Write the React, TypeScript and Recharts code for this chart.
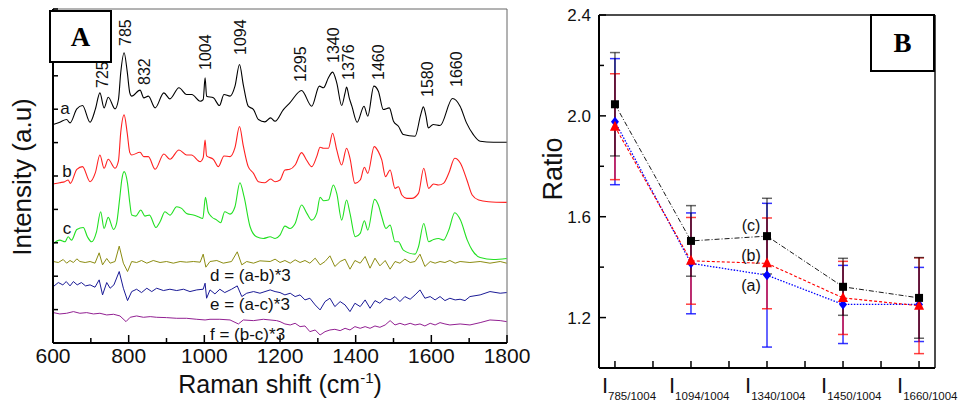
import React from "react";
import { LineChart, Line, ComposedChart, XAxis, YAxis, ErrorBar, ReferenceLine } from "recharts";

const FONT = "'Liberation Sans', Arial, sans-serif";
const SERIF = "'Liberation Serif', 'Times New Roman', serif";

// ---- panel A: Raman spectra, [shift (cm-1), intensity (a.u.)] ----
const spectrumA: [number, number][] = [
  [600, 6.54], [618, 6.61], [636, 6.69], [645, 6.59], [663, 7.01], [678, 7.11], [698, 6.61], [712, 7.0],
  [724, 7.49], [735, 7.04], [746, 7.36], [764, 7.01], [773, 7.29], [779, 8.09], [788, 8.69], [796, 8.14],
  [803, 7.49], [808, 7.39], [830, 7.57], [840, 7.34], [852, 7.39], [870, 7.04], [893, 7.49], [909, 7.31],
  [933, 7.64], [953, 7.44], [967, 7.44], [989, 7.24], [997, 7.29], [1002, 7.94], [1006, 7.39], [1024, 7.34],
  [1040, 7.11], [1052, 7.44], [1068, 7.39], [1081, 7.69], [1093, 8.34], [1103, 7.73], [1116, 7.09], [1130, 6.99],
  [1143, 6.69], [1160, 6.62], [1175, 6.74], [1187, 6.64], [1209, 6.99], [1226, 7.19], [1257, 7.56], [1284, 7.09],
  [1304, 7.69], [1315, 7.64], [1328, 7.94], [1339, 8.11], [1350, 7.79], [1363, 7.11], [1372, 7.49], [1376, 7.66],
  [1383, 7.34], [1390, 7.09], [1404, 6.61], [1422, 7.09], [1432, 6.79], [1448, 7.69], [1460, 7.54], [1473, 6.99],
  [1489, 7.04], [1500, 6.64], [1513, 6.49], [1526, 6.24], [1557, 6.19], [1572, 6.84], [1579, 7.07], [1586, 6.79],
  [1592, 6.44], [1605, 6.54], [1623, 6.51], [1656, 7.32], [1676, 7.09], [1693, 6.59], [1711, 6.24], [1729, 6.04],
  [1764, 6.01], [1799, 6.01],
];

const spectrumB: [number, number][] = [
  [600, 4.76], [618, 4.8], [631, 4.83], [640, 4.88], [646, 4.78], [663, 5.2], [678, 5.28], [698, 4.83],
  [712, 5.1], [724, 5.63], [735, 5.23], [746, 5.5], [764, 5.23], [773, 5.45], [779, 6.3], [788, 6.83],
  [796, 6.3], [803, 5.7], [808, 5.63], [830, 5.71], [840, 5.58], [852, 5.58], [870, 5.2], [893, 5.66],
  [909, 5.5], [933, 5.78], [953, 5.63], [966, 5.63], [989, 5.43], [997, 5.55], [1002, 6.08], [1006, 5.6],
  [1024, 5.5], [1037, 5.28], [1052, 5.6], [1068, 5.58], [1081, 5.85], [1093, 6.48], [1103, 5.9], [1116, 5.28],
  [1130, 5.08], [1143, 4.83], [1160, 4.8], [1175, 4.91], [1187, 4.83], [1200, 4.88], [1213, 5.18], [1226, 5.2],
  [1240, 5.33], [1257, 5.7], [1270, 5.48], [1284, 5.28], [1297, 5.58], [1306, 5.86], [1315, 5.83], [1328, 5.83],
  [1339, 6.28], [1350, 5.78], [1363, 5.33], [1376, 5.83], [1385, 5.53], [1398, 4.78], [1412, 4.88], [1423, 5.26],
  [1432, 5.08], [1449, 5.88], [1460, 5.73], [1469, 5.48], [1479, 4.98], [1491, 5.18], [1504, 4.63], [1513, 4.68],
  [1522, 4.43], [1535, 4.33], [1548, 4.33], [1566, 4.48], [1580, 5.23], [1593, 4.63], [1606, 4.76], [1619, 4.73],
  [1632, 4.78], [1646, 5.08], [1662, 5.53], [1677, 5.38], [1694, 4.88], [1708, 4.43], [1725, 4.28], [1751, 4.23],
  [1799, 4.21],
];

const spectrumC: [number, number][] = [
  [601, 2.98], [618, 3.08], [632, 3.03], [640, 3.18], [649, 3.08], [663, 3.4], [680, 3.46], [691, 3.18],
  [702, 3.03], [715, 3.33], [726, 3.93], [735, 3.43], [746, 3.76], [760, 3.4], [768, 3.58], [776, 4.3],
  [782, 4.9], [788, 5.13], [797, 4.78], [803, 4.2], [808, 3.83], [819, 3.8], [832, 3.98], [843, 3.8],
  [855, 3.83], [872, 3.46], [883, 3.63], [896, 3.93], [909, 3.83], [927, 4.08], [940, 4.03], [953, 3.88],
  [971, 3.83], [984, 3.78], [996, 3.73], [1003, 4.36], [1010, 3.93], [1019, 3.78], [1033, 3.68], [1043, 3.6],
  [1054, 3.93], [1068, 3.86], [1081, 4.08], [1094, 4.8], [1105, 4.38], [1121, 3.48], [1138, 3.18], [1156, 3.13],
  [1174, 3.18], [1187, 3.13], [1200, 3.23], [1213, 3.5], [1226, 3.43], [1240, 3.58], [1257, 4.13], [1271, 3.88],
  [1284, 3.68], [1297, 3.88], [1306, 4.36], [1315, 4.26], [1328, 4.28], [1341, 4.73], [1350, 4.48], [1363, 3.68],
  [1376, 4.28], [1385, 3.88], [1399, 3.18], [1412, 3.28], [1423, 3.66], [1432, 3.38], [1450, 4.3], [1460, 4.13],
  [1469, 3.78], [1480, 3.43], [1491, 3.53], [1504, 3.03], [1513, 3.03], [1526, 2.78], [1557, 2.66], [1566, 2.88],
  [1580, 3.58], [1593, 3.03], [1606, 3.1], [1619, 3.13], [1632, 3.08], [1646, 3.38], [1662, 3.9], [1677, 3.68],
  [1695, 3.08], [1708, 2.78], [1729, 2.56], [1764, 2.5], [1799, 2.53],
];

// difference spectra (x3)
const diffD: [number, number][] = [
  [601, 2.44], [614, 2.41], [627, 2.5], [636, 2.39], [645, 2.47], [654, 2.41], [663, 2.52], [671, 2.44],
  [685, 2.41], [698, 2.44], [711, 2.39], [722, 2.7], [731, 2.34], [742, 2.53], [751, 2.39], [764, 2.44],
  [775, 2.9], [786, 2.39], [797, 2.14], [808, 2.44], [821, 2.41], [834, 2.47], [848, 2.39], [865, 2.47],
  [883, 2.41], [900, 2.44], [918, 2.39], [936, 2.44], [953, 2.42], [971, 2.44], [989, 2.42], [997, 2.66],
  [1004, 2.27], [1015, 2.44], [1033, 2.47], [1050, 2.39], [1072, 2.44], [1087, 2.73], [1099, 2.34], [1112, 2.44],
  [1130, 2.39], [1147, 2.46], [1174, 2.44], [1187, 2.51], [1200, 2.41], [1213, 2.47], [1227, 2.39], [1240, 2.49],
  [1253, 2.41], [1266, 2.47], [1279, 2.39], [1293, 2.54], [1306, 2.34], [1319, 2.44], [1332, 2.61], [1345, 2.29],
  [1359, 2.44], [1372, 2.51], [1385, 2.21], [1398, 2.47], [1412, 2.39], [1425, 2.59], [1438, 2.24], [1451, 2.54],
  [1464, 2.31], [1478, 2.47], [1491, 2.21], [1504, 2.44], [1517, 2.39], [1530, 2.51], [1544, 2.41], [1557, 2.44],
  [1570, 2.66], [1583, 2.29], [1597, 2.44], [1610, 2.39], [1623, 2.44], [1636, 2.41], [1649, 2.47], [1663, 2.39],
  [1676, 2.44], [1702, 2.41], [1729, 2.44], [1755, 2.39], [1782, 2.44], [1799, 2.39],
];

const diffE: [number, number][] = [
  [601, 1.69], [614, 1.81], [626, 1.74], [635, 1.84], [645, 1.71], [654, 1.84], [664, 1.74], [675, 1.81],
  [686, 1.71], [698, 1.74], [711, 1.67], [722, 1.89], [731, 1.44], [742, 1.81], [751, 1.64], [761, 1.74],
  [775, 2.14], [786, 1.64], [797, 1.27], [808, 1.54], [821, 1.61], [834, 1.51], [848, 1.64], [861, 1.54],
  [874, 1.64], [892, 1.57], [909, 1.61], [927, 1.57], [945, 1.61], [962, 1.54], [980, 1.59], [997, 1.61],
  [1002, 1.79], [1006, 1.34], [1015, 1.59], [1028, 1.47], [1041, 1.61], [1054, 1.51], [1072, 1.61], [1087, 1.71],
  [1099, 1.39], [1112, 1.49], [1130, 1.54], [1147, 1.49], [1174, 1.59], [1187, 1.54], [1200, 1.51], [1213, 1.44],
  [1227, 1.49], [1240, 1.39], [1253, 1.44], [1266, 1.29], [1279, 1.34], [1293, 1.14], [1306, 0.99], [1319, 1.24],
  [1332, 1.34], [1345, 1.09], [1359, 1.24], [1372, 1.14], [1385, 0.94], [1398, 1.19], [1412, 1.09], [1425, 1.29],
  [1438, 1.04], [1451, 1.27], [1464, 1.19], [1478, 1.34], [1491, 1.29], [1504, 1.39], [1517, 1.24], [1530, 1.39],
  [1544, 1.31], [1557, 1.44], [1570, 1.59], [1583, 1.34], [1597, 1.39], [1610, 1.29], [1623, 1.39], [1636, 1.27],
  [1649, 1.34], [1663, 1.29], [1676, 1.31], [1689, 1.27], [1702, 1.39], [1729, 1.44], [1755, 1.54], [1782, 1.49],
  [1799, 1.51],
];

const diffF: [number, number][] = [
  [601, 0.91], [618, 0.87], [636, 0.89], [654, 0.94], [671, 0.89], [689, 0.91], [707, 0.87], [724, 0.89],
  [742, 0.84], [760, 0.86], [777, 0.81], [793, 0.64], [804, 0.77], [821, 0.81], [839, 0.77], [857, 0.79],
  [874, 0.77], [900, 0.76], [927, 0.74], [953, 0.74], [980, 0.71], [1002, 0.69], [1015, 0.71], [1041, 0.71],
  [1068, 0.69], [1090, 0.57], [1103, 0.69], [1130, 0.67], [1156, 0.71], [1191, 0.67], [1200, 0.64], [1213, 0.57],
  [1227, 0.54], [1240, 0.59], [1253, 0.49], [1266, 0.51], [1279, 0.34], [1293, 0.39], [1306, 0.24], [1319, 0.34],
  [1332, 0.39], [1345, 0.41], [1359, 0.37], [1372, 0.44], [1385, 0.39], [1398, 0.49], [1412, 0.44], [1425, 0.49],
  [1438, 0.44], [1451, 0.51], [1464, 0.47], [1478, 0.54], [1491, 0.67], [1504, 0.54], [1517, 0.59], [1530, 0.54],
  [1544, 0.59], [1557, 0.54], [1570, 0.57], [1583, 0.51], [1597, 0.59], [1610, 0.54], [1623, 0.61], [1636, 0.57],
  [1649, 0.54], [1676, 0.57], [1702, 0.54], [1729, 0.61], [1755, 0.69], [1782, 0.67], [1799, 0.64],
];

const ramanTicks = [600, 700, 800, 900, 1000, 1100, 1200, 1300, 1400, 1500, 1600, 1700, 1800];
const intensityTicks = [1, 2, 3, 4, 5, 6, 7, 8, 9, 10];

const peakLabels: [string, number, number][] = [
  ["725", 102, 88], ["785", 125, 46], ["832", 144, 85], ["1004", 205, 70], ["1094", 240, 55],
  ["1295", 300, 82], ["1340", 333, 63], ["1376", 348, 80], ["1460", 378, 80], ["1580", 427, 97],
  ["1660", 456, 87],
];

// ---- panel B: intensity ratios ----
const ratioNames = ["785/1004", "1094/1004", "1340/1004", "1450/1004", "1660/1004"];
const ratioC = [2.046, 1.504, 1.523, 1.322, 1.278];
const ratioCErr = [0.205, 0.14, 0.15, 0.113, 0.16];
const ratioB = [1.957, 1.425, 1.415, 1.278, 1.247];
const ratioBErr = [0.21, 0.172, 0.18, 0.145, 0.19];
const ratioA = [1.977, 1.415, 1.368, 1.252, 1.252];
const ratioAErr = [0.25, 0.2, 0.285, 0.155, 0.147];
const ratioXTicks = [1, 1.5, 2, 2.5, 3, 3.5, 4, 4.5, 5];
const ratioYTicks = [1.2, 1.4, 1.6, 1.8, 2.0, 2.2, 2.4];

const toXY = (arr: [number, number][]) => arr.map(([x, y]) => ({ x, y }));

const ratioRows = ratioNames.map((name, i) => ({
  pos: i + 1,
  name,
  c: ratioC[i], cErr: ratioCErr[i],
  b: ratioB[i], bErr: ratioBErr[i],
  a: ratioA[i], aErr: ratioAErr[i],
}));

function RamanTick(props: any) {
  const { x, y, payload } = props;
  const major = payload.value % 200 === 0;
  return (
    <g>
      <line x1={x} y1={y} x2={x} y2={y - (major ? 8 : 5)} stroke="#000" strokeWidth={1.5} />
      {major && (
        <text x={x} y={y + 20} textAnchor="middle" fontSize={21} fontFamily={FONT} fill="#111">
          {payload.value}
        </text>
      )}
    </g>
  );
}

function IntensityTick(props: any) {
  const { x, y } = props;
  return <line x1={x} y1={y} x2={x + 5} y2={y} stroke="#000" strokeWidth={1.5} />;
}

function RatioXTick(props: any) {
  const { x, y, payload } = props;
  const idx = payload.value - 1;
  const major = Number.isInteger(payload.value);
  return (
    <g>
      <line x1={x} y1={y} x2={x} y2={y - 7} stroke="#000" strokeWidth={1.5} />
      {major && (
        <text x={x - (idx === 0 ? 13 : 22)} y={y + 25} textAnchor="start" fontFamily={FONT} fill="#111">
          <tspan fontSize={22}>I</tspan>
          <tspan fontSize={11.5} dy={7}>{ratioNames[idx]}</tspan>
        </text>
      )}
    </g>
  );
}

function RatioYTick(props: any) {
  const { x, y, payload } = props;
  const v = Math.round(payload.value * 10);
  const major = v % 4 === 0;
  return (
    <g>
      <line x1={x} y1={y} x2={x + (major ? 7 : 5)} y2={y} stroke="#000" strokeWidth={1.5} />
      {major && (
        <text x={x - 8} y={y + 6} textAnchor="end" fontSize={17} fontFamily={FONT} fill="#111">
          {payload.value.toFixed(1)}
        </text>
      )}
    </g>
  );
}

const SquareDot = (p: any) =>
  p.cx == null ? <g /> : <rect x={p.cx - 4} y={p.cy - 4} width={8} height={8} fill="#000" />;
const TriangleDot = (p: any) =>
  p.cx == null ? <g /> : (
    <polygon points={`${p.cx},${p.cy - 6} ${p.cx - 5},${p.cy + 4} ${p.cx + 5},${p.cy + 4}`} fill="#ff0000" />
  );
const DiamondDot = (p: any) =>
  p.cx == null ? <g /> : (
    <polygon points={`${p.cx},${p.cy - 5} ${p.cx + 4},${p.cy} ${p.cx},${p.cy + 5} ${p.cx - 4},${p.cy}`} fill="#0000ff" />
  );

function SpectraPanel() {
  const curves: [string, [number, number][], string, number, string][] = [
    ["a", spectrumA, "#000000", 1.1, "monotone"],
    ["b", spectrumB, "#ff2020", 1.1, "monotone"],
    ["c", spectrumC, "#22e022", 1.1, "monotone"],
    ["d", diffD, "#8c8c12", 1, "linear"],
    ["e", diffE, "#1a1a96", 1, "linear"],
    ["f", diffF, "#922092", 1, "linear"],
  ];
  return (
    <LineChart width={540} height={404} margin={{ top: 9, right: 33, bottom: 60, left: 52 }}>
      <XAxis
        type="number" dataKey="x" domain={[600, 1800]} ticks={ramanTicks} allowDataOverflow interval={0}
        height={1} tickSize={0} tickMargin={0} tick={RamanTick} tickLine={false}
        axisLine={{ stroke: "#000", strokeWidth: 2 }}
      />
      <YAxis
        type="number" dataKey="y" domain={[0, 10]} ticks={intensityTicks} allowDataOverflow interval={0}
        width={1} tickSize={0} tickMargin={0} tick={IntensityTick} tickLine={false}
        axisLine={{ stroke: "#000", strokeWidth: 2 }}
      />
      <ReferenceLine y={10} stroke="#666" strokeWidth={1} />
      <ReferenceLine x={1800} stroke="#666" strokeWidth={1} />
      {curves.map(([id, pts, color, w, kind]) => (
        <Line
          key={id} data={toXY(pts)} dataKey="y" type={kind as any} stroke={color} strokeWidth={w}
          dot={false} isAnimationActive={false}
        />
      ))}
    </LineChart>
  );
}

function RatioPanel() {
  return (
    <ComposedChart width={422} height={404} data={ratioRows} margin={{ top: 15, right: 27, bottom: 35, left: 58 }}>
      <XAxis
        type="number" dataKey="pos" domain={[0.79, 5.21]} ticks={ratioXTicks} allowDataOverflow interval={0}
        height={1} tickSize={0} tickMargin={0} tick={RatioXTick} tickLine={false}
        axisLine={{ stroke: "#000", strokeWidth: 2 }}
      />
      <YAxis
        type="number" domain={[1.0, 2.4]} ticks={ratioYTicks} allowDataOverflow interval={0}
        width={1} tickSize={0} tickMargin={0} tick={RatioYTick} tickLine={false}
        axisLine={{ stroke: "#000", strokeWidth: 2 }}
      />
      <ReferenceLine y={2.4} stroke="#111" strokeWidth={1.5} />
      <ReferenceLine x={5.21} stroke="#111" strokeWidth={1.5} />
      <Line dataKey="a" type="linear" stroke="#0000ff" strokeWidth={1.3} strokeDasharray="1.5 1.5"
        dot={DiamondDot} isAnimationActive={false}>
        <ErrorBar dataKey="aErr" direction="y" width={5} stroke="#0000ff" strokeOpacity={0.8} strokeWidth={1.5} />
      </Line>
      <Line dataKey="b" type="linear" stroke="#ff0000" strokeWidth={1.1} strokeDasharray="3 2"
        dot={TriangleDot} isAnimationActive={false}>
        <ErrorBar dataKey="bErr" direction="y" width={5} stroke="#ff0000" strokeOpacity={0.75} strokeWidth={1.5} />
      </Line>
      <Line dataKey="c" type="linear" stroke="#000000" strokeWidth={0.9} strokeDasharray="5 2 1 2"
        dot={SquareDot} isAnimationActive={false}>
        <ErrorBar dataKey="cErr" direction="y" width={5} stroke="#000000" strokeOpacity={0.6} strokeWidth={1.5} />
      </Line>
    </ComposedChart>
  );
}

function Annotations() {
  return (
    <svg width={962} height={404} style={{ position: "absolute", left: 0, top: 0, pointerEvents: "none" }}>
      <g fontFamily={FONT} fill="#111">
        {peakLabels.map(([t, x, y]) => (
          <text key={t} x={x} y={y} fontSize={16} dominantBaseline="central" transform={`rotate(-90 ${x} ${y})`}>
            {t}
          </text>
        ))}
        <text x={65} y={108} fontSize={17} textAnchor="middle" dominantBaseline="central">a</text>
        <text x={67} y={171} fontSize={17} textAnchor="middle" dominantBaseline="central">b</text>
        <text x={67} y={228} fontSize={17} textAnchor="middle" dominantBaseline="central">c</text>
        <text x={210} y={281} fontSize={17}>d = (a-b)*3</text>
        <text x={210} y={310} fontSize={17}>e = (a-c)*3</text>
        <text x={210} y={340} fontSize={17}>f = (b-c)*3</text>
        <text x={31} y={177} fontSize={26} textAnchor="middle" transform="rotate(-90 31 177)">Intensity (a.u)</text>
        <text x={280} y={393} fontSize={25} textAnchor="middle">
          Raman shift (cm<tspan fontSize={15} dy={-10}>-1</tspan><tspan dy={10}>)</tspan>
        </text>
        <text x={562} y={169} fontSize={27} textAnchor="middle" transform="rotate(-90 562 169)">Ratio</text>
        <text x={751} y={225} fontSize={16} textAnchor="middle" dominantBaseline="central">(c)</text>
        <text x={751} y={255} fontSize={16} textAnchor="middle" dominantBaseline="central">(b)</text>
        <text x={751} y={285} fontSize={16} textAnchor="middle" dominantBaseline="central">(a)</text>
      </g>
      <rect x={50} y={11} width={61} height={51} fill="#fff" stroke="#000" strokeWidth={2} />
      <text x={80.5} y={46} fontSize={27} fontWeight="bold" fontFamily={SERIF} textAnchor="middle">A</text>
      <rect x={871} y={15} width={63} height={56} fill="#fff" stroke="#000" strokeWidth={2} />
      <text x={902.5} y={52} fontSize={27} fontWeight="bold" fontFamily={SERIF} textAnchor="middle">B</text>
    </svg>
  );
}

export default function App() {
  return (
    <div style={{ position: "absolute", left: 0, top: 0, width: 962, height: 404, background: "#fff" }}>
      <div style={{ position: "absolute", left: 0, top: 0 }}>
        <SpectraPanel />
      </div>
      <div style={{ position: "absolute", left: 540, top: 0 }}>
        <RatioPanel />
      </div>
      <Annotations />
    </div>
  );
}
